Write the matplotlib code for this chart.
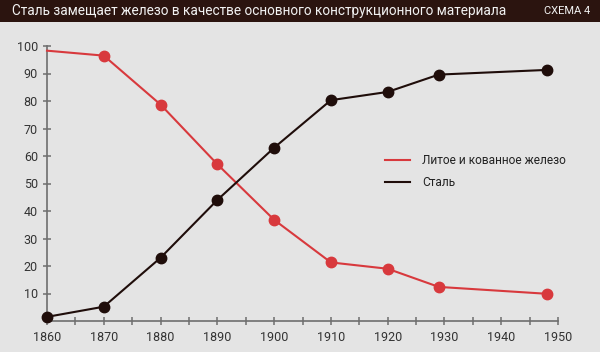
import matplotlib.pyplot as plt
from matplotlib import font_manager

# data
years = [1860, 1870, 1880, 1890, 1900, 1910, 1920, 1929, 1948]
iron = [98.3, 96.5, 78.7, 57.0, 36.8, 21.3, 19.0, 12.4, 9.9]
steel = [1.5, 5.2, 23.0, 44.0, 63.0, 80.3, 83.3, 89.6, 91.3]

title = "Сталь замещает железо в качестве основного конструкционного материала"
badge = "СХЕМА 4"
labels = ["Литое и кованное железо", "Сталь"]

names = {f.name for f in font_manager.fontManager.ttflist}
font = "Liberation Sans Narrow" if "Liberation Sans Narrow" in names else "Roboto"
plt.rcParams["font.family"] = [font, "DejaVu Sans"]

bg = "#e4e4e4"
red = "#d8393d"
dark = "#1f0d0a"
grey = "#6e6e6e"

fig = plt.figure(figsize=(6.0, 3.52), dpi=100, facecolor=bg)

# title bar
bar = fig.add_axes([0, 1 - 22 / 352, 1, 22 / 352])
bar.set_facecolor("#2b140f")
bar.set_xticks([])
bar.set_yticks([])
for s in bar.spines.values():
    s.set_visible(False)
bar.text(12 / 600, 0.5, title, color="#f2f2f2", fontsize=9.8, va="center", ha="left",
         transform=bar.transAxes)
bar.text(590 / 600, 0.5, badge, color="#f2f2f2", fontsize=8, va="center", ha="right",
         transform=bar.transAxes)

left, right = 47 / 600, 558 / 600
bottom, top = (352 - 321) / 352, (352 - 46) / 352
ax = fig.add_axes([left, bottom, right - left, top - bottom])
ax.set_facecolor(bg)

ax.plot(years, iron, color=red, lw=1.5, marker="o", ms=7.5, markevery=list(range(1, len(years))),
        label=labels[0], clip_on=False, zorder=3)
ax.plot(years, steel, color=dark, lw=1.5, marker="o", ms=7.5, label=labels[1],
        clip_on=False, zorder=3)

ax.set_xlim(1860, 1950)
ax.set_ylim(0, 100)
ax.set_xticks(range(1860, 1951, 10))
ax.set_xticks(range(1865, 1950, 10), minor=True)
ax.set_yticks(range(10, 101, 10))
for s in ["top", "right"]:
    ax.spines[s].set_visible(False)
for s in ["left", "bottom"]:
    ax.spines[s].set_color(grey)
    ax.spines[s].set_linewidth(1.2)
ax.tick_params(axis="both", which="both", colors=grey, direction="inout", length=6, width=1.1,
               labelcolor="#333333", labelsize=9)
ax.tick_params(axis="x", pad=4)

leg = ax.legend(loc="upper left", bbox_to_anchor=(0.64, 0.645), frameon=False, fontsize=8.6,
                handlelength=2.1, handletextpad=1.0, labelspacing=0.75, labelcolor="#222222")
for h in leg.legend_handles:
    h.set_marker("")

fig.savefig("out.png", dpi=100, facecolor=bg)
